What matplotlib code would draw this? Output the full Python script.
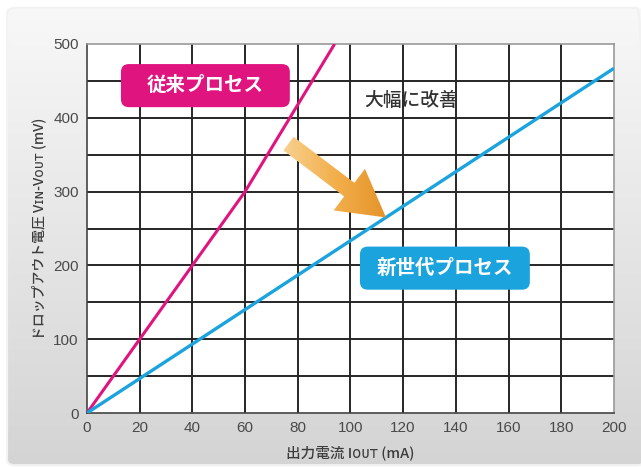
import numpy as np
import matplotlib
matplotlib.use("Agg")
import matplotlib.pyplot as plt
from matplotlib.patches import FancyBboxPatch, Polygon

plt.rcParams['font.family'] = ['Noto Sans CJK JP', 'DejaVu Sans']

# data
i_old = [0, 20, 40, 60, 77, 94]
v_old = [0, 100, 200, 300, 400, 500]
i_new = [0, 200]
v_new = [0, 467]

x_ticks = list(range(0, 201, 20))
y_ticks = [0, 100, 200, 300, 400, 500]
y_grid = list(range(0, 501, 50))

label_old = "従来プロセス"
label_new = "新世代プロセス"
note = "大幅に改善"

pink = "#e0147f"
blue = "#1ba3de"

fig = plt.figure(figsize=(6.41, 4.67), dpi=100)

# background panel with soft grey gradient
bg = fig.add_axes([0, 0, 1, 1], zorder=-10)
bg.set_xlim(0, 1)
bg.set_ylim(0, 1)
bg.axis("off")
grad = np.linspace(0, 1, 256).reshape(-1, 1)
cmap = matplotlib.colors.LinearSegmentedColormap.from_list("bg", ["#f8f8f8", "#e6e6e6", "#d4d4d4"])
img = bg.imshow(grad, extent=[0.011, 1.0, 0.004, 0.983], aspect="auto", cmap=cmap, origin="upper")
panel = FancyBboxPatch((0.011, 0.004), 0.995, 0.979, boxstyle="round,pad=0,rounding_size=0.012",
                       transform=bg.transAxes, facecolor="none", edgecolor="#f2f2f2", lw=1.5)
bg.add_patch(panel)
img.set_clip_path(panel)

ax = fig.add_axes([0.1357, 0.1156, 0.822, 0.7902])
ax.set_facecolor("white")
ax.set_xlim(0, 200)
ax.set_ylim(0, 500)

for x in x_ticks[1:-1]:
    ax.axvline(x, color="#262626", lw=1.4, zorder=1)
for y in y_grid[1:-1]:
    ax.axhline(y, color="#262626", lw=1.4, zorder=1)

ax.plot(i_old, v_old, color=pink, lw=2.2, zorder=3, solid_capstyle="butt")
ax.plot(i_new, v_new, color=blue, lw=2.4, zorder=3, solid_capstyle="butt")

for s in ["top", "right"]:
    ax.spines[s].set_color("#999999")
    ax.spines[s].set_linewidth(1.2)
for s in ["left", "bottom"]:
    ax.spines[s].set_color("#444444")
    ax.spines[s].set_linewidth(1.2)

ax.set_xticks(x_ticks)
ax.set_yticks(y_ticks)
ax.tick_params(length=0, labelsize=11, labelcolor="#4a4a4a", pad=6)
for t in ax.get_xticklabels() + ax.get_yticklabels():
    t.set_family(["Liberation Sans", "DejaVu Sans"])

ax.set_xlabel("出力電流 Iᴏᴜᴛ (mA)", fontsize=10.5, color="#3c3c3c", labelpad=7,
              fontweight="medium")
ax.set_ylabel("ドロップアウト電圧 Vɪɴ-Vᴏᴜᴛ (mV)", fontsize=10, color="#3c3c3c", labelpad=5,
              fontweight="medium")

# callout boxes
sx, sy = 527 / 200.0, 368 / 500.0
asp = sx / sy
ax.add_patch(FancyBboxPatch((12.9, 414.4), 64.1, 58.4, boxstyle="round,pad=0,rounding_size=3",
                            mutation_aspect=asp, fc=pink, ec="none", zorder=5))
ax.add_patch(FancyBboxPatch((103.6, 167.1), 64.5, 58.4, boxstyle="round,pad=0,rounding_size=3",
                            mutation_aspect=asp, fc=blue, ec="none", zorder=5))
ax.text(45.0, 443.6, label_old, color="white", fontsize=14, fontweight="bold",
        ha="center", va="center", zorder=6)
ax.text(135.9, 196.3, label_new, color="white", fontsize=14, fontweight="bold",
        ha="center", va="center", zorder=6)
ax.text(123, 423, note, color="#333333", fontsize=13.5, ha="center", va="center", zorder=5,
        fontweight="medium")

# gradient arrow
tail = np.array([76.5, 365.0])
tip = np.array([113.5, 265.0])
d = tip - tail
dp = np.array([d[0] * sx, d[1] * sy])
L = np.hypot(*dp)
u = dp / L
n = np.array([-u[1], u[0]])
shaft_w, head_w, head_l = 8.5, 26.0, 46.0
pts_px = [
    n * shaft_w,
    u * (L - head_l) + n * shaft_w,
    u * (L - head_l) + n * head_w,
    u * L,
    u * (L - head_l) - n * head_w,
    u * (L - head_l) - n * shaft_w,
    -n * shaft_w,
]
pts = [(tail[0] + p[0] / sx, tail[1] + p[1] / sy) for p in pts_px]
arrow = Polygon(pts, closed=True, facecolor="none", edgecolor="none", zorder=4)
ax.add_patch(arrow)
agrad = np.linspace(0, 1, 256).reshape(1, -1)
acmap = matplotlib.colors.LinearSegmentedColormap.from_list("ar", ["#f9d69a", "#f2ae4a", "#e28c22"])
aimg = ax.imshow(agrad, extent=[tail[0] - 5, tip[0] + 5, tip[1] - 20, tail[1] + 10],
                 aspect="auto", cmap=acmap, zorder=4)
aimg.set_clip_path(arrow)
ax.set_xlim(0, 200)
ax.set_ylim(0, 500)

fig.savefig("out.png", dpi=100)
